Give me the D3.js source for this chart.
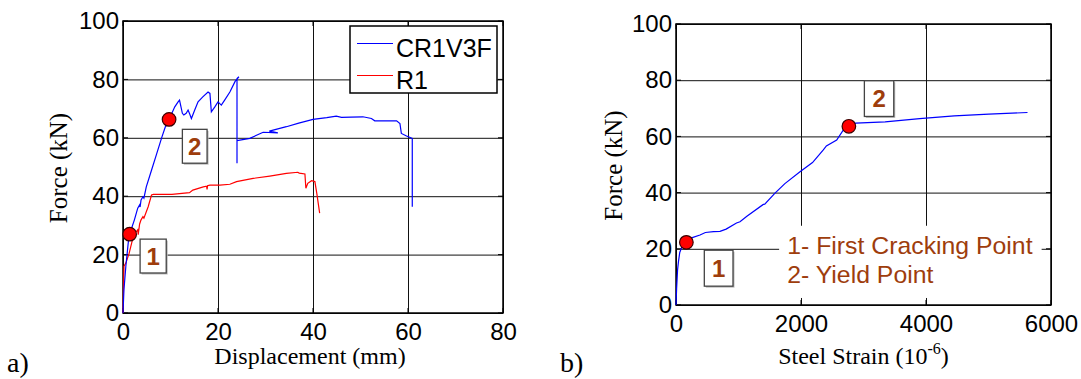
<!DOCTYPE html>
<html>
<head>
<meta charset="utf-8">
<script src="https://cdn.jsdelivr.net/npm/d3@7"></script>
<style>
  html, body { margin: 0; padding: 0; background: #fff; }
  svg { display: block; }
</style>
</head>
<body>
<svg id="chart" width="1081" height="379"></svg>
<script>
// panel a) force vs displacement, two beams
const cr1v3fDisp = [0, 0.2, 0.6, 1.1, 1.4, 1.7, 2.4, 3.1, 3.5, 3.6, 3.8, 4.2, 4.4, 4.9, 6.0, 7.1, 8.2, 8.9, 9.7,
  10.9, 11.6, 11.9, 12.5, 12.8, 13.3, 13.7, 14.0, 14.4, 15.1, 15.8, 16.8, 17.9, 18.3, 18.6, 19.3, 20.0, 20.7, 21.4,
  22.5, 23.6, 24.4, 24.0, 24.0, 24.0, 24.6, 26.7, 29.5, 32.6, 30.8, 34.4, 37.0, 40.0, 42.9, 44.9, 46.0, 48.0, 50.5,
  52.3, 53.0, 57.6, 58.3, 58.6, 59.7, 60.9, 60.9];
const cr1v3fForce = [0, 8, 16, 24, 27, 28.5, 31.9, 35.9, 37.0, 36.3, 38.7, 39.8, 39.3, 43.2, 48.9, 54.6, 60.3, 63.7, 66.3,
  70.6, 72.3, 72.9, 68.4, 67.8, 68.4, 69.5, 68.3, 66.6, 69.5, 72.3, 74.0, 75.7, 75.2, 68.9, 70.5, 72.3, 71.2, 72.9,
  75.7, 79.3, 80.9, 80.3, 51.3, 59.0, 59.2, 59.8, 61.9, 61.7, 62.3, 63.8, 65.0, 66.3, 66.9, 67.4, 67.0, 67.1, 67.2,
  66.6, 65.8, 65.8, 64.9, 61.5, 60.6, 59.8, 36.4];

const r1Disp = [0, 0.2, 0.6, 1.3, 2.0, 2.4, 3.1, 3.2, 3.5, 3.8, 4.2, 4.4, 5.3, 6.0, 6.4, 10.3, 14.0, 14.7, 16.9,
  17.6, 17.7, 17.8, 18.3, 20.4, 22.5, 23.9, 27.4, 30.9, 34.4, 36.8, 37.1, 38.3, 38.5, 38.9, 39.7, 40.4, 40.8, 41.4];
const r1Force = [0, 16, 17.1, 20.5, 25.1, 27.0, 28.5, 26.8, 30.5, 31.9, 33.0, 32.5, 36.4, 40.4, 40.6, 40.6, 41.2, 42.1, 43.2,
  43.4, 42.3, 43.6, 43.8, 43.8, 44.1, 45.0, 46.1, 46.9, 47.8, 48.2, 47.9, 47.6, 42.7, 44.4, 45.3, 45.0, 41.0, 34.2];

const leftPointsX = [1.4, 9.7];
const leftPointsY = [27.0, 66.3];

// panel b) force vs steel strain
const steelStrain = [0, 10, 25, 40, 60, 91, 138, 166, 249, 384, 470, 600, 704, 802, 968, 1024, 1134, 1397, 1420,
  1584, 1742, 1984, 2184, 2357, 2406, 2571, 2683, 2766, 2876, 3346, 3899, 4452, 5005, 5624];
const strainForce = [0, 6, 12.5, 15.5, 18.7, 20.5, 21.5, 22.3, 23.9, 24.9, 25.8, 26.1, 26.2, 27.0, 29.2, 29.6, 31.6, 35.8, 35.9,
  39.8, 43.2, 47.4, 50.7, 55.2, 56.6, 58.7, 62.5, 63.6, 64.7, 65.2, 66.3, 67.3, 67.9, 68.5];

const rightPointsX = [166, 2766];
const rightPointsY = [22.3, 63.6];

const seriesNames = ["CR1V3F", "R1"];
const seriesColors = ["#0000ff", "#ff0000"];
const leftXTicks = [0, 20, 40, 60, 80];
const rightXTicks = [0, 2000, 4000, 6000];
const forceTicks = [0, 20, 40, 60, 80, 100];
const noteLines = ["1- First Cracking Point", "2- Yield Point"];

const svg = d3.select("#chart");
const SANS = "'Liberation Sans', Arial, sans-serif";
const SERIF = "'Liberation Serif', 'Times New Roman', serif";
const BROWN = "#9e3d0c";

function drawPanel(o) {
  const x = d3.scaleLinear().domain(o.xDomain).range([o.left, o.right]);
  const y = d3.scaleLinear().domain([0, 100]).range([o.bottom, o.top]);
  const g = svg.append("g");
  const w = o.right - o.left, h = o.bottom - o.top;

  // grid
  g.append("g")
    .attr("transform", `translate(0,${o.bottom})`)
    .call(d3.axisBottom(x).tickValues(o.xTicks).tickSize(-h).tickFormat(""))
    .call(s => s.select(".domain").remove())
    .selectAll("line").attr("stroke", "#111").attr("stroke-width", 1);
  g.append("g")
    .attr("transform", `translate(${o.left},0)`)
    .call(d3.axisLeft(y).tickValues(forceTicks).tickSize(-w).tickFormat(""))
    .call(s => s.select(".domain").remove())
    .selectAll("line").attr("stroke", "#111").attr("stroke-width", 1);

  o.extra && o.extra(g, x, y);

  // inward tick marks on all sides
  const tk = 5;
  g.selectAll("line.tx").data(o.xTicks).enter().append("line")
    .attr("x1", d => x(d)).attr("x2", d => x(d)).attr("y1", o.bottom).attr("y2", o.bottom - tk)
    .attr("stroke", "#000");
  g.selectAll("line.tx2").data(o.xTicks).enter().append("line")
    .attr("x1", d => x(d)).attr("x2", d => x(d)).attr("y1", o.top).attr("y2", o.top + tk)
    .attr("stroke", "#000");
  g.selectAll("line.ty").data(forceTicks).enter().append("line")
    .attr("x1", o.left).attr("x2", o.left + tk).attr("y1", d => y(d)).attr("y2", d => y(d))
    .attr("stroke", "#000");
  g.selectAll("line.ty2").data(forceTicks).enter().append("line")
    .attr("x1", o.right).attr("x2", o.right - tk).attr("y1", d => y(d)).attr("y2", d => y(d))
    .attr("stroke", "#000");

  // frame
  g.append("rect")
    .attr("x", o.left).attr("y", o.top).attr("width", w).attr("height", h)
    .attr("fill", "none").attr("stroke", "#000").attr("stroke-width", 1.5);

  // tick labels
  const xa = g.append("g")
    .attr("transform", `translate(0,${o.bottom})`)
    .call(d3.axisBottom(x).tickValues(o.xTicks).tickSize(0).tickPadding(10).tickFormat(d3.format("d")));
  xa.select(".domain").remove();
  xa.selectAll("text").attr("font-family", SANS).attr("font-size", 24).attr("fill", "#000");
  const ya = g.append("g")
    .attr("transform", `translate(${o.left},0)`)
    .call(d3.axisLeft(y).tickValues(forceTicks).tickSize(0).tickPadding(4));
  ya.select(".domain").remove();
  ya.selectAll("text").attr("font-family", SANS).attr("font-size", 24).attr("fill", "#000");

  // axis titles
  g.append("text")
    .attr("transform", `translate(${o.yTitleX},${(o.top + o.bottom) / 2 + 1}) rotate(-90)`)
    .attr("text-anchor", "middle").attr("dy", "0.35em")
    .attr("font-family", SERIF).attr("font-size", 25)
    .text("Force (kN)");
  const xt = g.append("text")
    .attr("x", (o.left + o.right) / 2 + o.xTitleShift).attr("y", 364)
    .attr("text-anchor", "middle")
    .attr("font-family", SERIF).attr("font-size", 24);
  o.xTitle(xt);

  g.append("text")
    .attr("x", o.tagX).attr("y", 372)
    .attr("font-family", SERIF).attr("font-size", 28)
    .text(o.tag);

  return { g, x, y };
}

function numberBox(g, x, y, x0, x1, y0, y1, label) {
  g.append("rect")
    .attr("x", x(x0) + 1.5).attr("y", y(y0) + 1.5)
    .attr("width", x(x1) - x(x0)).attr("height", y(y1) - y(y0))
    .attr("fill", "#bbb");
  g.append("rect")
    .attr("x", x(x0)).attr("y", y(y0))
    .attr("width", x(x1) - x(x0)).attr("height", y(y1) - y(y0))
    .attr("fill", "#fff").attr("stroke", "#444").attr("stroke-width", 1.3);
  g.append("text")
    .attr("x", (x(x0) + x(x1)) / 2).attr("y", (y(y0) + y(y1)) / 2)
    .attr("dy", "0.36em").attr("text-anchor", "middle")
    .attr("font-family", SANS).attr("font-weight", "bold").attr("font-size", 24)
    .attr("fill", BROWN).text(label);
}

function markers(g, x, y, xs, ys) {
  g.selectAll(null).data(xs).enter().append("circle")
    .attr("cx", d => x(d)).attr("cy", (d, i) => y(ys[i]))
    .attr("r", 6.8)
    .attr("fill", "#ff0000").attr("stroke", "#3a0000").attr("stroke-width", 1.2);
}

// ---- panel a)
const A = drawPanel({
  left: 123, right: 503, top: 21, bottom: 313,
  xDomain: [0, 80], xTicks: leftXTicks,
  yTitleX: 58, xTitleShift: -3, tag: "a)", tagX: 7,
  xTitle: t => t.text("Displacement (mm)")
});

const lineA = d3.line().x(d => A.x(d[0])).y(d => A.y(d[1]));
A.g.append("path")
  .attr("d", lineA(d3.zip(r1Disp, r1Force)))
  .attr("fill", "none").attr("stroke", seriesColors[1]).attr("stroke-width", 1.2);
A.g.append("path")
  .attr("d", lineA(d3.zip(cr1v3fDisp, cr1v3fForce)))
  .attr("fill", "none").attr("stroke", seriesColors[0]).attr("stroke-width", 1.2);

markers(A.g, A.x, A.y, leftPointsX, leftPointsY);
numberBox(A.g, A.x, A.y, 3.6, 9.1, 25.3, 13.7, "1");
numberBox(A.g, A.x, A.y, 12.5, 17.7, 62.9, 51.3, "2");

// legend
const lg = A.g.append("g");
lg.append("rect")
  .attr("x", 350).attr("y", 26).attr("width", 147).attr("height", 67)
  .attr("fill", "#fff").attr("stroke", "#000").attr("stroke-width", 1.5);
seriesNames.forEach((name, i) => {
  const ly = 43.5 + i * 32;
  lg.append("line")
    .attr("x1", 357).attr("x2", 393).attr("y1", ly).attr("y2", ly)
    .attr("stroke", seriesColors[i]).attr("stroke-width", 1.2);
  lg.append("text")
    .attr("x", 396).attr("y", ly + 13)
    .attr("font-family", SANS).attr("font-size", 25).attr("fill", "#000")
    .text(name);
});

// ---- panel b)
const B = drawPanel({
  left: 676, right: 1051, top: 24, bottom: 305,
  xDomain: [0, 6000], xTicks: rightXTicks,
  yTitleX: 613, xTitleShift: 0, tag: "b)", tagX: 560,
  xTitle: t => {
    t.append("tspan").text("Steel Strain (10");
    t.append("tspan").attr("dy", -10).attr("font-size", 16).text("-6");
    t.append("tspan").attr("dy", 10).text(")");
  },
  extra: (g, x, y) => {
    g.append("rect")
      .attr("x", x(1650)).attr("y", y(28.2))
      .attr("width", x(5850) - x(1650)).attr("height", y(2.5) - y(28.2))
      .attr("fill", "#fff");
  }
});

B.g.append("path")
  .attr("d", d3.line().x(d => B.x(d[0])).y(d => B.y(d[1]))(d3.zip(steelStrain, strainForce)))
  .attr("fill", "none").attr("stroke", seriesColors[0]).attr("stroke-width", 1.2);

markers(B.g, B.x, B.y, rightPointsX, rightPointsY);
numberBox(B.g, B.x, B.y, 453, 912, 19.5, 6.7, "1");
numberBox(B.g, B.x, B.y, 3014, 3484, 79.8, 67.1, "2");

noteLines.forEach((txt, i) => {
  B.g.append("text")
    .attr("x", B.x(1780)).attr("y", B.y(18.0 - i * 10.2))
    .attr("font-family", SANS).attr("font-size", 24.8).attr("fill", BROWN)
    .text(txt);
});
</script>
</body>
</html>
